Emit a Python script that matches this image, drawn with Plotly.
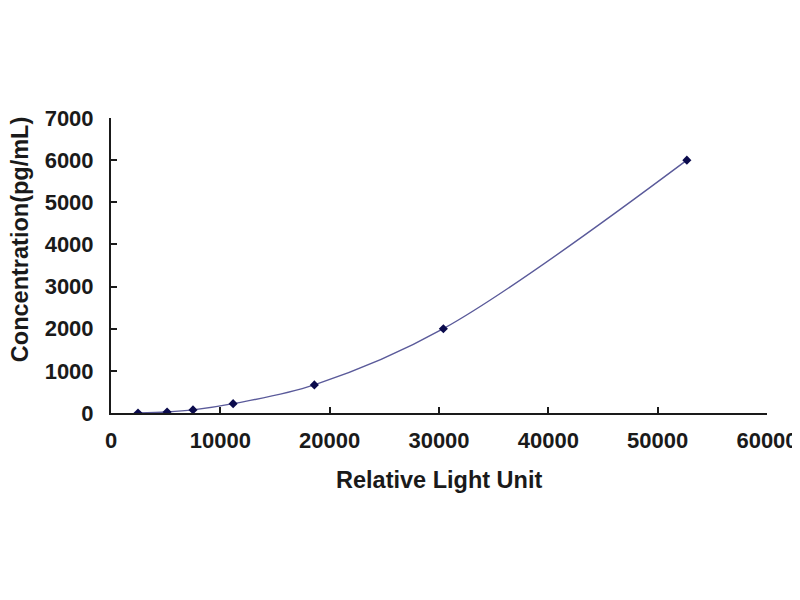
import plotly.graph_objects as go

# standard curve readings
rlu = [2470, 5130, 7500, 11170, 18600, 30400, 52670]
conc = [0, 24.69, 74.07, 222.22, 666.67, 2000, 6000]

x_ticks = [0, 10000, 20000, 30000, 40000, 50000, 60000]
y_ticks = [0, 1000, 2000, 3000, 4000, 5000, 6000, 7000]

font_family = "Liberation Sans, Arial"
ink = "#1a1a1a"

fig = go.Figure()

# ------------------------------------------------------------
# Fitted curve + standards
# ------------------------------------------------------------
fig.add_trace(
    go.Scatter(
        x=rlu,
        y=conc,
        mode="lines",
        line=dict(color="#5a5a9a", width=1.4, shape="spline", smoothing=1.0),
        hoverinfo="skip",
        showlegend=False,
    )
)

fig.add_trace(
    go.Scatter(
        x=rlu,
        y=conc,
        mode="markers",
        marker=dict(symbol="diamond", size=7, color="#0b0b4d"),
        showlegend=False,
    )
)

# ------------------------------------------------------------
# Layout (page body adds 8px offset, margins account for it)
# ------------------------------------------------------------
axis_common = dict(
    showgrid=False,
    zeroline=False,
    showline=True,
    linecolor=ink,
    linewidth=2,
    ticks="inside",
    ticklen=6,
    tickwidth=1.5,
    tickcolor=ink,
    tickfont=dict(family=font_family, size=22, color=ink, weight="bold"),
)

fig.update_layout(
    width=800,
    height=600,
    paper_bgcolor="white",
    plot_bgcolor="white",
    margin=dict(l=103, r=41, t=110, b=195),
    xaxis=dict(
        range=[0, 60000],
        tickvals=x_ticks,
        ticktext=[str(v) for v in x_ticks],
        ticklabelstandoff=7,
        automargin=False,
        **axis_common,
    ),
    yaxis=dict(
        range=[0, 7000],
        tickvals=y_ticks,
        ticktext=[str(v) for v in y_ticks],
        ticklabelstandoff=11,
        automargin=False,
        **axis_common,
    ),
)

fig.add_annotation(
    xref="paper",
    yref="paper",
    x=0.5,
    y=-0.227,
    yanchor="middle",
    text="<b>Relative Light Unit</b>",
    showarrow=False,
    font=dict(family=font_family, size=23.5, color=ink),
)

fig.add_annotation(
    xref="paper",
    yref="paper",
    x=-0.1387,
    y=0.586,
    xanchor="center",
    yanchor="middle",
    textangle=-90,
    text="<b>Concentration(pg/mL)</b>",
    showarrow=False,
    font=dict(family=font_family, size=23.5, color=ink),
)

fig.write_html("out.html")
